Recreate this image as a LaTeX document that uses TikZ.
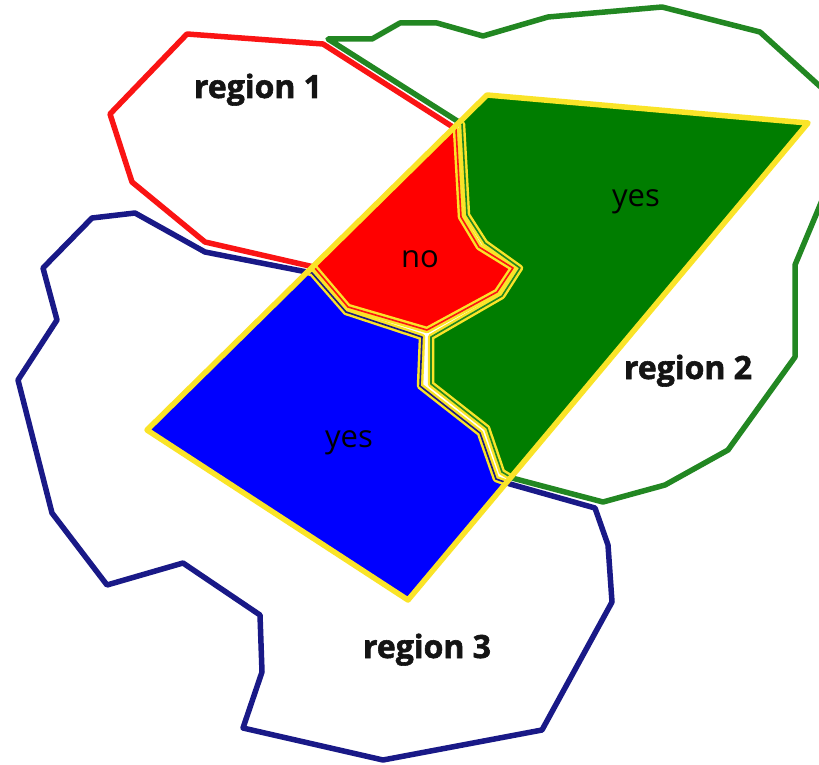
\documentclass[tikz,border=0pt]{standalone}
\usepackage{fontspec}
\setmainfont{Open Sans}
\newfontfamily\heavyfont[FakeBold=1.8]{Open Sans Bold}
\definecolor{redline}{RGB}{250,20,20}
\definecolor{greenline}{RGB}{34,135,34}
\definecolor{blueline}{RGB}{25,25,135}
\definecolor{redfill}{RGB}{255,0,0}
\definecolor{greenfill}{RGB}{0,125,0}
\definecolor{bluefill}{RGB}{0,0,255}
\definecolor{qyellow}{RGB}{250,228,40}
\definecolor{labelink}{RGB}{20,20,20}
\begin{document}
\begin{tikzpicture}[x=1pt,y=-1pt,
  regline/.style={line width=5.5pt, line join=round},
  innerline/.style={line width=1.6pt, line join=round},
  yband/.style={draw=qyellow, line width=6.5pt, line join=round},
  rlabel/.style={font=\heavyfont\fontsize{32}{32}\selectfont, text=labelink, inner sep=0pt, anchor=base},
  plabel/.style={font=\fontsize{31}{31}\selectfont, inner sep=0pt, anchor=base}]
\def\regA{(187,34) -- (323,44) -- (456,129) -- (461,217) -- (479,247) -- (513,268) -- (497,292) -- (427,330) -- (348,307) -- (314,267) -- (205,242) -- (132,182) -- (110,114) -- cycle}
\def\regB{(328,39) -- (372,39) -- (400,23) -- (437,23) -- (483,36) -- (548,17) -- (662,7) -- (760,32) -- (856,119) -- (818,210) -- (795,265) -- (795,357) -- (728,450) -- (665,485) -- (603,502) -- (512,478) -- (502,472) -- (487,428) -- (431,384) -- (431,337) -- (502,296) -- (520,268) -- (485,243) -- (467,215) -- (462,124) -- cycle}
\def\regC{(135,213) -- (205,252) -- (312,273) -- (346,312) -- (422,337) -- (420,386) -- (480,433) -- (496,479) -- (510,484) -- (595,508) -- (608,545) -- (612,602) -- (542,730) -- (383,760) -- (243,728) -- (262,672) -- (260,615) -- (183,563) -- (107,585) -- (52,513) -- (18,380) -- (57,320) -- (43,268) -- (92,218) -- cycle}
\def\query{(147,430) -- (487,95) -- (808,123) -- (408,600) -- cycle}
\useasboundingbox (0,0) rectangle (819,765);
\fill[white] (0,0) rectangle (819,765);
\clip (0,0) rectangle (819,765);
% region outlines
\draw[regline, greenline] \regB;
\draw[regline, blueline] \regC;
\draw[regline, redline] \regA;
% pieces inside the query
\begin{scope}
  \clip \query;
  \fill[white] \query;
  \fill[bluefill] \regC;
  \fill[greenfill] \regB;
  \fill[redfill] \regA;
  \draw[yband] \regA;
  \draw[yband] \regB;
  \draw[yband] \regC;
  \draw[innerline, redline] \regA;
  \draw[innerline, greenline] \regB;
  \draw[innerline, blueline] \regC;
\end{scope}
\draw[draw=qyellow, line width=5.5pt, line join=round] \query;
% labels
\node[rlabel] (l1) at (258,98) {region 1};
\node[rlabel] (l2) at (688,379) {region 2};
\node[rlabel] (l3) at (427,658) {region 3};
\node[plabel] (pno) at (420,267) {no};
\node[plabel] (pyes2) at (636,206) {yes};
\node[plabel] (pyes3) at (349,447) {yes};
\end{tikzpicture}
\end{document}
